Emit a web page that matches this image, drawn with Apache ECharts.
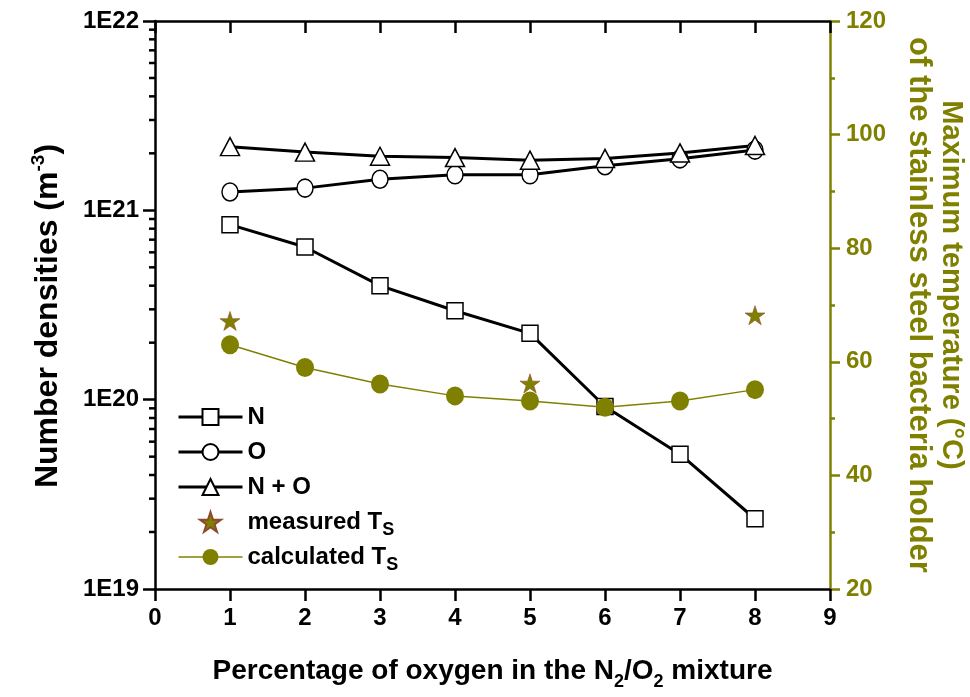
<!DOCTYPE html>
<html><head><meta charset="utf-8">
<script src="https://cdn.jsdelivr.net/npm/echarts@6/dist/echarts.min.js"></script>
<style>html,body{margin:0;padding:0;background:#fff}#c{width:970px;height:697px}</style>
</head><body><div id="c"></div>
<script>
// ---- data ----
const oxygenPct = [1, 2, 3, 4, 5, 6, 7, 8];
const densityN = [8.4e20, 6.4e20, 4.0e20, 2.95e20, 2.24e20, 9.2e19, 5.15e19, 2.35e19];
const densityO = [1.25e21, 1.31e21, 1.46e21, 1.54e21, 1.54e21, 1.72e21, 1.87e21, 2.08e21];
const densityNO = [2.17e21, 2.03e21, 1.93e21, 1.90e21, 1.84e21, 1.88e21, 2.01e21, 2.20e21];
const measuredX = [1, 5, 8];
const measuredT = [67.2, 56.2, 68.2];
const calculatedT = [63.0, 59.0, 56.1, 54.0, 53.1, 52.0, 53.1, 55.1];
const leftMinorTicks = [2e19, 3e19, 4e19, 5e19, 6e19, 7e19, 8e19, 9e19,
                        2e20, 3e20, 4e20, 5e20, 6e20, 7e20, 8e20, 9e20,
                        2e21, 3e21, 4e21, 5e21, 6e21, 7e21, 8e21, 9e21];
const legendNames = ['N', 'O', 'N + O', 'measured Ts', 'calculated Ts'];

const FONT = 'Liberation Sans, Arial, sans-serif';
const OLIVE = '#808000';
const zip = (xs, ys) => xs.map((x, i) => [x, ys[i]]);

const chart = echarts.init(document.getElementById('c'), null, {renderer: 'canvas'});
const blackMarker = {color: '#fff', borderColor: '#000', borderWidth: 1.5};
const tickFont = {fontFamily: FONT, fontSize: 24, fontWeight: 'bold'};

const option = {
  animation: false,
  backgroundColor: '#fff',
  textStyle: {fontFamily: FONT},
  grid: {left: 155, right: 140, top: 21, bottom: 108, containLabel: false, outerBoundsMode: 'none'},
  legend: {
    data: [
      {name: legendNames[0], lineStyle: {width: 3, color: '#000'}},
      {name: legendNames[1], lineStyle: {width: 3, color: '#000'}},
      {name: legendNames[2], lineStyle: {width: 3, color: '#000'}},
      {name: legendNames[3]},
      {name: legendNames[4], lineStyle: {width: 1.5, color: OLIVE}}
    ],
    orient: 'vertical', left: 172, top: 395,
    itemWidth: 64, itemHeight: 20, itemGap: 1,
    selectedMode: false,
    textStyle: {
      fontFamily: FONT, fontSize: 24, fontWeight: 'bold', color: '#000', lineHeight: 34,
      rich: {
        m: {fontFamily: FONT, fontSize: 24, fontWeight: 'bold', color: '#000', lineHeight: 34},
        s: {fontFamily: FONT, fontSize: 18, fontWeight: 'bold', color: '#000', lineHeight: 10, verticalAlign: 'bottom'}
      }
    },
    formatter: n => n.endsWith('Ts') ? '{m|' + n.slice(0, -1) + '}{s|S}' : n
  },
  xAxis: [{
    type: 'value', min: 0, max: 9, interval: 1, position: 'bottom',
    axisLine: {show: true, onZero: false, lineStyle: {color: '#000', width: 2.5}},
    axisTick: {show: true, inside: false, length: 12, lineStyle: {color: '#000', width: 2.5}},
    axisLabel: Object.assign({color: '#000', margin: 17}, tickFont),
    splitLine: {show: false},
    name: '{m|Percentage of oxygen in the N}{s|2}{m|/O}{s|2}{m| mixture}',
    nameLocation: 'middle', nameGap: 62,
    nameTextStyle: {
      fontFamily: FONT, fontSize: 28, fontWeight: 'bold', color: '#000',
      rich: {
        m: {fontFamily: FONT, fontSize: 28, fontWeight: 'bold', color: '#000', lineHeight: 40},
        s: {fontFamily: FONT, fontSize: 18, fontWeight: 'bold', color: '#000', lineHeight: 8, verticalAlign: 'bottom'}
      }
    }
  }, {
    type: 'value', min: 0, max: 9, interval: 1, position: 'top',
    axisLine: {show: true, onZero: false, lineStyle: {color: '#000', width: 2.5}},
    axisTick: {show: true, inside: true, length: 12, lineStyle: {color: '#000', width: 2.5}},
    axisLabel: {show: false},
    splitLine: {show: false}
  }],
  yAxis: [{
    type: 'log', logBase: 10, min: 1e19, max: 1e22, position: 'left',
    axisLine: {show: true, onZero: false, lineStyle: {color: '#000', width: 2.5}},
    axisTick: {show: true, inside: false, length: 12, lineStyle: {color: '#000', width: 2.5}},
    axisLabel: Object.assign({color: '#000', margin: 16,
      formatter: v => '1E' + Math.round(Math.log10(v))}, tickFont),
    splitLine: {show: false},
    name: '{m|Number densities (m}{p|-3}{e|)}',
    nameLocation: 'middle', nameGap: 88,
    nameTextStyle: {
      fontFamily: FONT, fontSize: 32, fontWeight: 'bold', color: '#000',
      rich: {
        m: {fontFamily: FONT, fontSize: 32, fontWeight: 'bold', color: '#000', lineHeight: 38},
        e: {fontFamily: FONT, fontSize: 32, fontWeight: 'bold', color: '#000', lineHeight: 38, padding: [0, 22, 0, 0]},
        p: {fontFamily: FONT, fontSize: 19, fontWeight: 'bold', color: '#000', lineHeight: 12, verticalAlign: 'top'}
      }
    }
  }, {
    type: 'value', min: 20, max: 120, interval: 20, position: 'right',
    axisLine: {show: true, onZero: false, lineStyle: {color: OLIVE, width: 2.5}},
    axisTick: {show: true, inside: false, length: 10, lineStyle: {color: OLIVE, width: 2.5}},
    minorTick: {show: true, splitNumber: 2, length: 5, lineStyle: {color: OLIVE, width: 2.5}},
    axisLabel: Object.assign({color: OLIVE, margin: 16}, tickFont),
    splitLine: {show: false},
    minorSplitLine: {show: false},
    name: '{a|Maximum temperature (°C)}\n{b|of the stainless steel bacteria holder}',
    nameLocation: 'middle', nameGap: 73, nameRotate: -90,
    nameTextStyle: {
      fontFamily: FONT, fontSize: 30, fontWeight: 'bold', color: OLIVE, lineHeight: 32,
      rich: {
        a: {fontFamily: FONT, fontSize: 29, fontWeight: 'bold', color: OLIVE, lineHeight: 32, padding: [0, 40, 0, 0]},
        b: {fontFamily: FONT, fontSize: 31, fontWeight: 'bold', color: OLIVE, lineHeight: 32}
      }
    }
  }],
  series: [
    {
      type: 'custom', name: 'minorTicks', xAxisIndex: 0, yAxisIndex: 0, silent: true, clip: false, z: 5,
      data: leftMinorTicks.map(v => [0, v]),
      renderItem: (params, api) => {
        const p = api.coord([api.value(0), api.value(1)]);
        return {type: 'line', shape: {x1: p[0] - 6, y1: p[1], x2: p[0], y2: p[1]},
                style: {stroke: '#000', lineWidth: 2.5}};
      }
    },
    {
      type: 'line', name: legendNames[0], xAxisIndex: 0, yAxisIndex: 0, data: zip(oxygenPct, densityN),
      symbol: 'rect', symbolSize: 16, itemStyle: blackMarker,
      lineStyle: {color: '#000', width: 3}
    },
    {
      type: 'line', name: legendNames[1], xAxisIndex: 0, yAxisIndex: 0, data: zip(oxygenPct, densityO),
      symbol: 'circle', symbolSize: [16, 18], itemStyle: blackMarker,
      lineStyle: {color: '#000', width: 3}
    },
    {
      type: 'line', name: legendNames[2], xAxisIndex: 0, yAxisIndex: 0, data: zip(oxygenPct, densityNO),
      symbol: 'triangle', symbolSize: [19, 18], itemStyle: blackMarker,
      lineStyle: {color: '#000', width: 3}
    },
    {
      type: 'scatter', name: legendNames[3], xAxisIndex: 0, yAxisIndex: 1, data: zip(measuredX, measuredT),
      symbol: 'path://M100,0 L122.45,69.1 L195.1,69.1 L136.3,111.8 L158.8,180.9 L100,138.2 L41.2,180.9 L63.7,111.8 L4.9,69.1 L77.55,69.1 Z',
      symbolKeepAspect: true, symbolSize: 20,
      itemStyle: {color: OLIVE, borderColor: '#8b4a2b', borderWidth: 0.6, opacity: 1}
    },
    {
      type: 'line', name: legendNames[4], xAxisIndex: 0, yAxisIndex: 1, data: zip(oxygenPct, calculatedT),
      symbol: 'circle', symbolSize: [18, 19], itemStyle: {color: OLIVE, borderColor: OLIVE, borderWidth: 0},
      lineStyle: {color: OLIVE, width: 1.5}
    }
  ]
};
chart.setOption(option);
</script>
</body></html>
